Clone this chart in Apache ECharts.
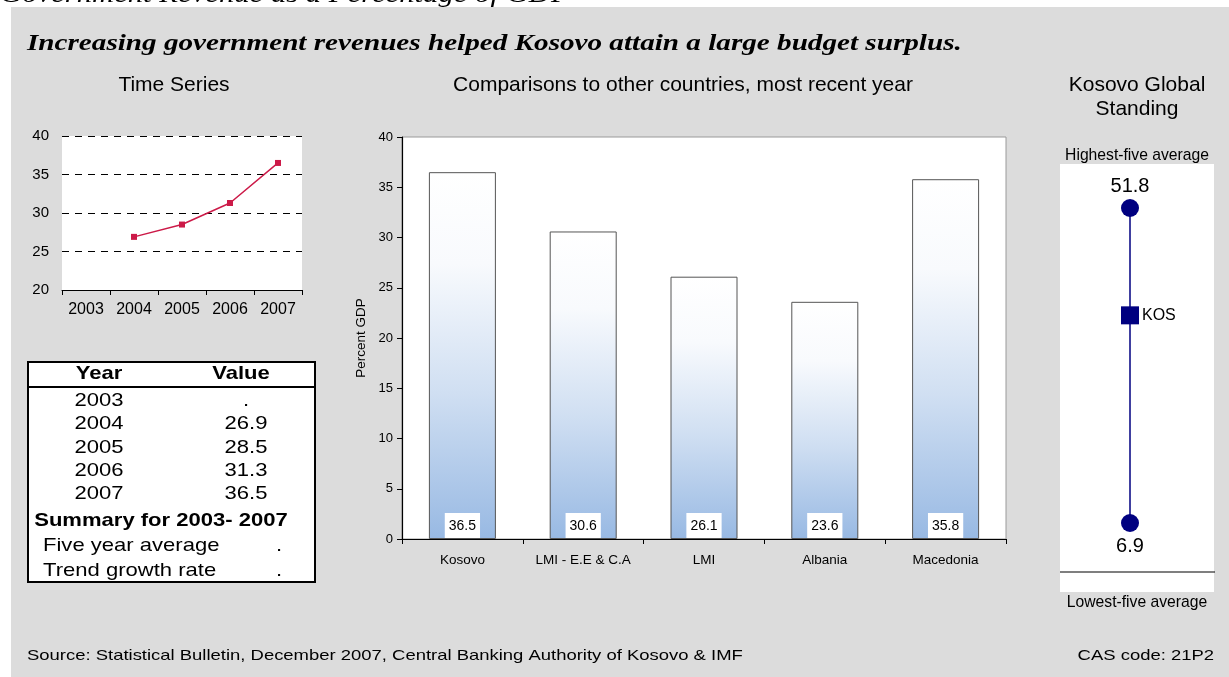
<!DOCTYPE html>
<html>
<head>
<meta charset="utf-8">
<title>Government Revenue as a Percentage of GDP</title>
<script src="https://cdn.jsdelivr.net/npm/echarts@6/dist/echarts.min.js"></script>
<style>
  html, body { margin: 0; padding: 0; background: #ffffff; }
  #chart { width: 1229px; height: 677px; }
</style>
</head>
<body>
<div id="chart"></div>
<script>
// Time series: government revenue, % of GDP
const years = ['2003', '2004', '2005', '2006', '2007'];
const revenue = [null, 26.9, 28.5, 31.3, 36.5];
const timeTicks = [20, 25, 30, 35, 40];

// Cross-country comparison, most recent year
const countries = ['Kosovo', 'LMI - E.E & C.A', 'LMI', 'Albania', 'Macedonia'];
const countryValues = [36.5, 30.6, 26.1, 23.6, 35.8];
const barTicks = [0, 5, 10, 15, 20, 25, 30, 35, 40];

// Global standing
const highestFive = 51.8;
const lowestFive = 6.9;
const kosovoStanding = 36.5;
const standingCode = 'KOS';

// Summary rows
const summaryRows = ['Five year average', 'Trend growth rate'];
const summaryValues = ['.', '.'];

const FONT = 'Arial, "Liberation Sans", Helvetica, sans-serif';
const SERIF = '"Liberation Serif", "Times New Roman", serif';

const chart = echarts.init(document.getElementById('chart'), null, { renderer: 'canvas' });

// text element anchored at (x, y); scaleX widens the glyphs around that anchor
function txt(x, y, text, size, opts) {
  opts = opts || {};
  return {
    type: 'text', x: x, y: y, z: opts.z == null ? 5 : opts.z,
    scaleX: opts.scaleX || 1,
    style: {
      text: text, x: 0, y: 0,
      fontFamily: opts.family || FONT,
      fontSize: size,
      fontWeight: opts.weight || 'normal',
      fontStyle: opts.style || 'normal',
      fill: opts.color || '#000',
      textAlign: opts.align || 'center',
      textVerticalAlign: opts.valign || 'middle'
    }
  };
}

const graphics = [];
// page heading strip and grey panel
graphics.push(txt(0, 8, 'Government Revenue as a Percentage of GDP', 26,
  { family: SERIF, style: 'italic', align: 'left', valign: 'bottom', z: -20, scaleX: 1.18 }));
graphics.push({ type: 'rect', z: -10, shape: { x: 11, y: 7, width: 1218, height: 670 },
  style: { fill: '#dcdcdc' } });

// headline and panel titles
graphics.push(txt(27, 44, 'Increasing government revenues helped Kosovo attain a large budget surplus.', 24,
  { family: SERIF, style: 'italic', weight: 'bold', align: 'left', scaleX: 1.215 }));
graphics.push(txt(174, 85, 'Time Series', 21));
graphics.push(txt(683, 85, 'Comparisons to other countries, most recent year', 21));
graphics.push(txt(1137, 85, 'Kosovo Global', 21));
graphics.push(txt(1137, 109, 'Standing', 21));

// data table
const TS = 1.16;
graphics.push({ type: 'rect', z: 1, shape: { x: 28, y: 362, width: 287, height: 220 },
  style: { fill: '#ffffff', stroke: '#000', lineWidth: 2 } });
graphics.push({ type: 'line', z: 2, shape: { x1: 28, y1: 387, x2: 315, y2: 387 },
  style: { stroke: '#000', lineWidth: 2 } });
graphics.push(txt(99, 374, 'Year', 19, { weight: 'bold', scaleX: TS }));
graphics.push(txt(241, 374, 'Value', 19, { weight: 'bold', scaleX: TS }));
years.forEach(function (yr, i) {
  const y = 401 + i * 23.2;
  const v = revenue[i];
  graphics.push(txt(99, y, yr, 19, { scaleX: TS }));
  graphics.push(txt(246, y, v == null ? '.' : v.toFixed(1), 19, { scaleX: TS }));
});
graphics.push(txt(161, 521, 'Summary for ' + years[0] + '- ' + years[years.length - 1], 19, { weight: 'bold', scaleX: TS }));
summaryRows.forEach(function (label, i) {
  const y = 546 + i * 25;
  graphics.push(txt(43, y, label, 19, { align: 'left', scaleX: TS }));
  graphics.push(txt(279, y, summaryValues[i], 19, { scaleX: TS }));
});

// global standing panel
graphics.push({ type: 'rect', z: 1, shape: { x: 1060, y: 164, width: 154, height: 428 },
  style: { fill: '#ffffff' } });
graphics.push({ type: 'line', z: 2, shape: { x1: 1060, y1: 572, x2: 1215, y2: 572 },
  style: { stroke: '#000', lineWidth: 1.2 } });
graphics.push(txt(1137, 156, 'Highest-five average', 15.7));
graphics.push(txt(1137, 603, 'Lowest-five average', 15.7));

// footer
graphics.push(txt(27, 656, 'Source: Statistical Bulletin, December 2007, Central Banking Authority of Kosovo & IMF', 15,
  { align: 'left', scaleX: 1.23 }));
graphics.push(txt(1214, 656, 'CAS code: 21P2', 15, { align: 'right', scaleX: 1.23 }));

const option = {
  animation: false,
  backgroundColor: 'transparent',
  graphic: { elements: graphics },
  grid: [
    { left: 62, top: 136, width: 240, height: 154, show: true, backgroundColor: '#ffffff', borderWidth: 0, z: 3 },
    { left: 402, top: 137, width: 604, height: 402, show: true, backgroundColor: '#ffffff', borderColor: '#9a9a9a', borderWidth: 1, z: 3 },
    { left: 1100, top: 208, width: 60, height: 315, show: false, z: 3 }
  ],
  xAxis: [
    {
      gridIndex: 0, type: 'category', data: years, boundaryGap: true, z: 4,
      axisLine: { lineStyle: { color: '#000', width: 1 } },
      axisTick: { show: true, interval: 0, length: 5, lineStyle: { color: '#000' } },
      axisLabel: { color: '#000', fontSize: 16, fontFamily: FONT, margin: 12, interval: 0 }
    },
    {
      gridIndex: 1, type: 'category', data: countries, boundaryGap: true, z: 4,
      axisLine: { lineStyle: { color: '#000', width: 1.2 } },
      axisTick: { show: true, interval: 0, length: 5, lineStyle: { color: '#000' } },
      axisLabel: { color: '#000', fontSize: 13.5, fontFamily: FONT, margin: 14, interval: 0 }
    },
    { gridIndex: 2, type: 'value', min: -1, max: 1, show: false }
  ],
  yAxis: [
    {
      gridIndex: 0, type: 'value', min: timeTicks[0], max: timeTicks[timeTicks.length - 1], interval: 5, z: 4,
      axisLine: { show: false }, axisTick: { show: false },
      splitLine: { show: true, lineStyle: { color: '#000', type: [7, 6], width: 1 } },
      axisLabel: { color: '#000', fontSize: 15, fontFamily: FONT, margin: 13 }
    },
    {
      gridIndex: 1, type: 'value', min: barTicks[0], max: barTicks[barTicks.length - 1], interval: 5, z: 4,
      name: 'Percent GDP', nameLocation: 'middle', nameGap: 34,
      nameTextStyle: { color: '#000', fontSize: 13.5, fontFamily: FONT },
      axisLine: { show: true, lineStyle: { color: '#000', width: 1.2 } },
      axisTick: { show: true, length: 5, lineStyle: { color: '#000' } },
      splitLine: { show: false },
      axisLabel: { color: '#000', fontSize: 13, fontFamily: FONT, margin: 9 }
    },
    { gridIndex: 2, type: 'value', min: lowestFive, max: highestFive, show: false }
  ],
  series: [
    {
      type: 'line', xAxisIndex: 0, yAxisIndex: 0, data: revenue, z: 5,
      symbol: 'rect', symbolSize: 6, showAllSymbol: true,
      lineStyle: { color: '#cc1a48', width: 1.5 },
      itemStyle: { color: '#cc1a48' }
    },
    {
      type: 'bar', xAxisIndex: 1, yAxisIndex: 1, data: countryValues, barWidth: 67, z: 5,
      itemStyle: {
        borderColor: '#555', borderWidth: 1,
        color: new echarts.graphic.LinearGradient(0, 0, 0, 1, [
          { offset: 0, color: '#ffffff' },
          { offset: 0.25, color: '#f8fafd' },
          { offset: 0.6, color: '#d0dff2' },
          { offset: 1, color: '#98b9e3' }
        ])
      },
      label: {
        show: true, position: 'insideBottom', distance: 1,
        backgroundColor: '#ffffff', padding: [6, 4, 5, 4],
        color: '#000', fontSize: 14, fontFamily: FONT,
        formatter: function (p) { return p.value.toFixed(1); }
      }
    },
    {
      type: 'line', xAxisIndex: 2, yAxisIndex: 2, z: 5,
      data: [[0, lowestFive], [0, highestFive]],
      symbol: 'none', lineStyle: { color: '#000080', width: 1.5 }
    },
    {
      type: 'scatter', xAxisIndex: 2, yAxisIndex: 2, z: 6,
      symbol: 'circle', symbolSize: 18, itemStyle: { color: '#000080', opacity: 1 },
      data: [
        { value: [0, highestFive], label: { show: true, position: 'top', distance: 3 } },
        { value: [0, lowestFive], label: { show: true, position: 'bottom', distance: 4 } }
      ],
      label: { color: '#000', fontSize: 20, fontFamily: FONT, formatter: function (p) { return p.value[1].toFixed(1); } }
    },
    {
      type: 'scatter', xAxisIndex: 2, yAxisIndex: 2, z: 6,
      symbol: 'rect', symbolSize: 18, itemStyle: { color: '#000080', opacity: 1 },
      data: [[0, kosovoStanding]],
      label: { show: true, position: 'right', distance: 3, color: '#000', fontSize: 16, fontFamily: FONT,
        formatter: function () { return standingCode; } }
    }
  ]
};

chart.setOption(option);
</script>
</body>
</html>
